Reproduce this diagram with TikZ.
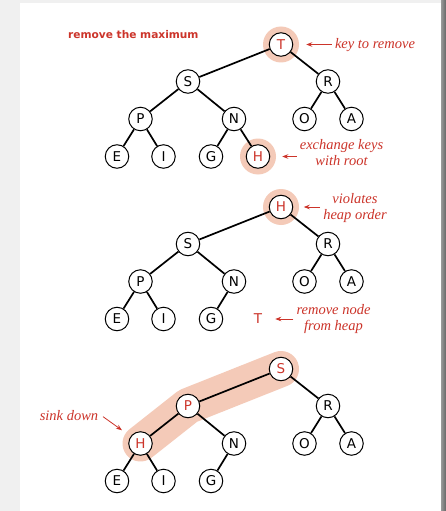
\documentclass[tikz,border=0pt]{standalone}
\usepackage{fontspec}
\usetikzlibrary{arrows.meta,backgrounds}
\newfontfamily\keyfont{DejaVu Sans}
\newfontfamily\notefont{Liberation Serif}
\definecolor{heapred}{RGB}{204,52,42}
\definecolor{ringpink}{RGB}{244,202,184}
\definecolor{pagegray}{RGB}{240,240,240}
\tikzset{
  key/.style={circle,draw,fill=white,line width=1pt,minimum size=23.5pt,inner sep=0pt,
    font=\keyfont\fontsize{13.5}{14}\selectfont},
  hot/.style={text=heapred},
  link/.style={line width=1.7pt},
  note/.style={text=heapred,align=center,inner sep=3pt,
    font=\notefont\itshape\fontsize{14.5}{15.7}\selectfont},
  pointer/.style={heapred,line width=0.8pt,-{Stealth[length=6pt,width=4.5pt]}},
  ring/.style={fill=ringpink},
  band/.style={draw=ringpink,line width=36pt,line cap=round,line join=round}
}
\begin{document}
\begin{tikzpicture}[x=1pt,y=-1pt]
\useasboundingbox (0,0) rectangle (446,511);
\begin{pgfonlayer}{background}
  \fill[pagegray] (0,0) rectangle (446,511);
  \fill[white] (20,3) rectangle (441,511);
  \shade[left color=black!40,right color=black!60] (441,0) rectangle (446,511);
\end{pgfonlayer}

\node[anchor=west,inner sep=0pt,text=heapred,font=\keyfont\bfseries\fontsize{10.6}{13}\selectfont]
  (title) at (68,35) {remove the maximum};

% T taken off the top
\node[key,hot] (t1) at (281,44.5) {T};
\node[key] (s1) at (188,81.5) {S};
\node[key] (r1) at (328,81.5) {R};
\node[key] (p1) at (140.5,119) {P};
\node[key] (n1) at (234,119) {N};
\node[key] (o1) at (304.5,119) {O};
\node[key] (a1) at (351.5,119) {A};
\node[key] (e1) at (117,156.5) {E};
\node[key] (i1) at (163.5,156.5) {I};
\node[key] (g1) at (211,156.5) {G};
\node[key,hot] (h1) at (258,156.5) {H};
\foreach \a/\b in {t1/s1,t1/r1,s1/p1,s1/n1,r1/o1,r1/a1,p1/e1,p1/i1,n1/g1,n1/h1}
  \draw[link] (\a) -- (\b);
\begin{pgfonlayer}{background}
  \fill[ring] (t1) circle[radius=18];
  \fill[ring] (h1) circle[radius=18];
\end{pgfonlayer}
\node[note] (keynote) at (375,45) {key to remove};
\node[note] (xnote) at (341.5,152.5) {exchange keys\\with root};
\draw[pointer,shorten >=13pt] (keynote.west |- t1) -- (t1);
\draw[pointer,shorten >=12pt] (xnote.west |- h1) -- (h1);

% H on top
\begin{scope}[shift={(0,162.5)}]
\node[key,hot] (h2) at (281,44.5) {H};
\node[key] (s2) at (188,81.5) {S};
\node[key] (r2) at (328,81.5) {R};
\node[key] (p2) at (140.5,119) {P};
\node[key] (n2) at (234,119) {N};
\node[key] (o2) at (304.5,119) {O};
\node[key] (a2) at (351.5,119) {A};
\node[key] (e2) at (117,156.5) {E};
\node[key] (i2) at (163.5,156.5) {I};
\node[key] (g2) at (211,156.5) {G};
\node[key,draw=none,fill=none,hot] (t2) at (258,156.5) {T};
\node[note] (vnote) at (355,45.8) {violates\\heap order};
\node[note] (rmnote) at (333.5,156.5) {remove node\\from heap};
\end{scope}
\foreach \a/\b in {h2/s2,h2/r2,s2/p2,s2/n2,r2/o2,r2/a2,p2/e2,p2/i2,n2/g2}
  \draw[link] (\a) -- (\b);
\begin{pgfonlayer}{background}
  \fill[ring] (h2) circle[radius=18];
\end{pgfonlayer}
\draw[pointer,shorten >=10.5pt] (vnote.west |- h2) -- (h2);
\draw[pointer,shorten >=5pt] (rmnote.west |- t2) -- (t2);

% after the sink
\begin{scope}[shift={(0,324.5)}]
\node[key,hot] (s3) at (281,44.5) {S};
\node[key,hot] (p3) at (188,81.5) {P};
\node[key] (r3) at (328,81.5) {R};
\node[key,hot] (h3) at (140.5,119) {H};
\node[key] (n3) at (234,119) {N};
\node[key] (o3) at (304.5,119) {O};
\node[key] (a3) at (351.5,119) {A};
\node[key] (e3) at (117,156.5) {E};
\node[key] (i3) at (163.5,156.5) {I};
\node[key] (g3) at (211,156.5) {G};
\node[note] (sinknote) at (69,91) {sink down};
\end{scope}
\foreach \a/\b in {s3/p3,s3/r3,p3/h3,p3/n3,r3/o3,r3/a3,h3/e3,h3/i3,n3/g3}
  \draw[link] (\a) -- (\b);
\begin{pgfonlayer}{background}
  \draw[band] (h3.center) -- (p3.center) -- (s3.center);
\end{pgfonlayer}
\draw[pointer,shorten <=2pt,shorten >=10.5pt] (sinknote.east) -- (h3);
\end{tikzpicture}
\end{document}
